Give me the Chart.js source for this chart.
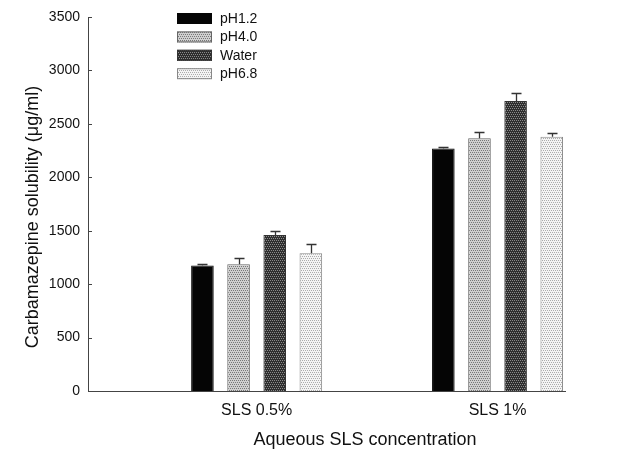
<!DOCTYPE html>
<html lang="en">
<head>
<meta charset="utf-8">
<title>Carbamazepine solubility</title>
<script src="https://cdn.jsdelivr.net/npm/chart.js"></script>
<style>
html,body{margin:0;background:#fff}
#wrap{width:619px;height:456px}
</style>
</head>
<body>
<div id="wrap"><canvas id="chart"></canvas></div>
<script>
/* ---------------- data ---------------- */
const CATEGORIES = ['SLS 0.5%', 'SLS 1%'];
const SERIES     = ['pH1.2', 'pH4.0', 'Water', 'pH6.8'];
const PH12  = [1175, 2270];
const PH40  = [1185, 2365];
const WATER = [1460, 2715];
const PH68  = [1290, 2380];
const ERR_PH12  = [10, 18];
const ERR_PH40  = [55, 62];
const ERR_WATER = [40, 75];
const ERR_PH68  = [85, 38];
const Y_TICKS = [0, 500, 1000, 1500, 2000, 2500, 3000, 3500];
const X_TITLE = 'Aqueous SLS concentration';
const Y_TITLE = 'Carbamazepine solubility (\u03bcg/ml)';

const FONT = "'Liberation Sans', Arial, sans-serif";
Chart.defaults.font.family = FONT;
Chart.defaults.color = '#111';

/* ------------- stipple fills ------------- */
const canvas = document.getElementById('chart');
const ctx0 = canvas.getContext('2d');
function stipple(base, dot){
  const t = document.createElement('canvas');
  t.width = 4; t.height = 4;
  const c = t.getContext('2d');
  c.fillStyle = base; c.fillRect(0, 0, 4, 4);
  c.fillStyle = dot;
  [[0,0],[2,0],[1,2],[3,2]].forEach(([x, y]) => c.fillRect(x, y, 1, 1));
  return ctx0.createPattern(t, 'repeat');
}
const FILLS = [
  '#050505',
  stipple('#cfcfcf', '#777777'),
  stipple('#2e2e2e', '#8a8a8a'),
  stipple('#f4f4f4', '#acacac')
];
const BORDERS = ['#050505', '#666', '#333', '#888'];

const VALUES = [PH12, PH40, WATER, PH68];
const ERRORS = [ERR_PH12, ERR_PH40, ERR_WATER, ERR_PH68];

/* ------------- plugins ------------- */
const errorBars = {
  id: 'errorBars',
  afterDatasetsDraw(chart){
    const {ctx, scales: {y}} = chart;
    ctx.save();
    ctx.strokeStyle = '#333'; ctx.lineWidth = 1.3;
    chart.data.datasets.forEach((ds, di) => {
      chart.getDatasetMeta(di).data.forEach((bar, i) => {
        const top = Math.round(y.getPixelForValue(ds.data[i].y + ds.errors[i])) + 0.5;
        const bx = Math.round(bar.x) + 0.5;
        ctx.beginPath();
        ctx.moveTo(bx, bar.y); ctx.lineTo(bx, top);
        ctx.moveTo(bx - 5, top); ctx.lineTo(bx + 5, top);
        ctx.stroke();
      });
    });
    ctx.restore();
  }
};

const extras = {
  id: 'extras',
  afterDraw(chart){
    const {ctx, chartArea: a, scales: {x, y}} = chart;
    ctx.save();
    // inward y ticks
    ctx.strokeStyle = '#444'; ctx.lineWidth = 1;
    y.ticks.forEach(t => {
      const py = Math.round(y.getPixelForValue(t.value)) + 0.5;
      ctx.beginPath(); ctx.moveTo(a.left, py); ctx.lineTo(a.left + 4, py); ctx.stroke();
    });
    // legend
    ctx.font = '14px ' + FONT;
    ctx.textBaseline = 'middle'; ctx.textAlign = 'left';
    chart.data.datasets.forEach((ds, i) => {
      const cy = a.top + 1 + i * 18.4;
      ctx.fillStyle = ds.backgroundColor;
      ctx.fillRect(a.left + 89, cy - 5, 35, 11);
      ctx.strokeStyle = ds.borderColor;
      ctx.strokeRect(a.left + 89.5, cy - 4.5, 34, 10);
      ctx.fillStyle = '#111';
      ctx.fillText(ds.label, a.left + 132, cy + 1);
    });
    // axis titles
    ctx.font = '18px ' + FONT;
    ctx.textAlign = 'center';
    ctx.fillText(X_TITLE, x.getPixelForValue(1.45), 440);
    ctx.translate(33, (a.top + a.bottom) / 2 + 13);
    ctx.rotate(-Math.PI / 2);
    ctx.fillText(Y_TITLE, 0, 0);
    ctx.restore();
  }
};

/* ------------- chart ------------- */
new Chart(canvas, {
  type: 'bar',
  data: {
    datasets: SERIES.map((name, s) => ({
      label: name,
      data: CATEGORIES.map((_, i) => ({x: i + 1, y: VALUES[s][i]})),
      errors: ERRORS[s],
      backgroundColor: FILLS[s],
      borderColor: BORDERS[s],
      borderWidth: 1,
      categoryPercentage: 0.6,
      barPercentage: 0.625
    }))
  },
  options: {
    animation: false, responsive: true, maintainAspectRatio: false,
    layout: {padding: {top: 17, right: 54, left: 0, bottom: 0}},
    plugins: {legend: {display: false}, tooltip: {enabled: false}},
    scales: {
      x: {
        type: 'linear', offset: false, min: 0.3, max: 2.28,
        afterBuildTicks: s => { s.ticks = CATEGORIES.map((_, i) => ({value: i + 1})); },
        afterFit: s => { s.height = 65; },
        grid: {display: false, drawTicks: false},
        border: {display: true, color: '#444', width: 1},
        ticks: {font: {size: 16}, padding: 10, autoSkip: false, maxRotation: 0,
                callback: v => CATEGORIES[v - 1] || ''}
      },
      y: {
        min: 0, max: 3500,
        afterBuildTicks: s => { s.ticks = Y_TICKS.map(v => ({value: v})); },
        afterFit: s => { s.width = 88; },
        grid: {display: false, drawTicks: false},
        border: {display: true, color: '#444', width: 1},
        ticks: {font: {size: 14}, padding: 8, callback: v => String(v)}
      }
    }
  },
  plugins: [errorBars, extras]
});
</script>
</body>
</html>
